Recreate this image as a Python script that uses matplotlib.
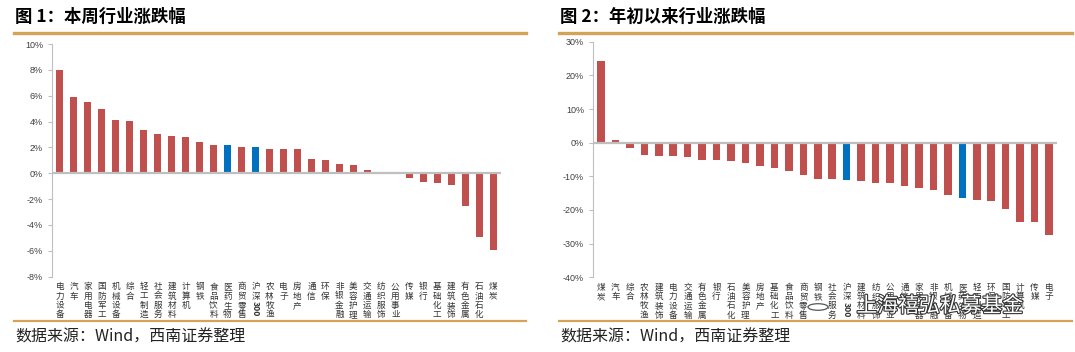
import matplotlib
matplotlib.use("Agg")
import matplotlib.pyplot as plt
import matplotlib.patheffects as pe
from matplotlib.lines import Line2D

plt.rcParams['font.family'] = ['Noto Sans CJK SC', 'DejaVu Sans']

# 本周行业涨跌幅 (%)
week_names = ["电力设备", "汽车", "家用电器", "国防军工", "机械设备", "综合", "轻工制造",
              "社会服务", "建筑材料", "计算机", "钢铁", "食品饮料", "医药生物", "商贸零售",
              "沪深300", "农林牧渔", "电子", "房地产", "通信", "环保", "非银金融", "美容护理",
              "交通运输", "纺织服饰", "公用事业", "传媒", "银行", "基础化工", "建筑装饰",
              "有色金属", "石油石化", "煤炭"]
week_values = [8.0, 5.88, 5.55, 4.98, 4.13, 4.05, 3.35, 3.05, 2.92, 2.79, 2.45, 2.19, 2.19,
               2.06, 2.01, 1.88, 1.88, 1.88, 1.08, 1.03, 0.70, 0.65, 0.23, 0.02, -0.08,
               -0.34, -0.65, -0.77, -0.93, -2.53, -4.9, -5.96]

# 年初以来行业涨跌幅 (%)
ytd_names = ["煤炭", "汽车", "综合", "农林牧渔", "建筑装饰", "电力设备", "交通运输", "有色金属",
             "银行", "石油石化", "美容护理", "房地产", "基础化工", "食品饮料", "商贸零售", "钢铁",
             "社会服务", "沪深300", "建筑材料", "纺织服饰", "公用事业", "通信", "家用电器",
             "非银金融", "机械设备", "医药生物", "轻工制造", "环保", "国防军工", "计算机",
             "传媒", "电子"]
ytd_values = [24.3, 0.7, -1.7, -3.6, -3.9, -4.1, -4.3, -5.0, -5.0, -5.3, -6.0, -6.8, -7.6,
              -8.3, -9.7, -10.8, -10.8, -11.0, -11.4, -11.9, -11.9, -12.8, -13.4, -14.1,
              -15.6, -16.4, -17.1, -17.3, -19.7, -23.5, -23.7, -27.4]

highlight = ["沪深300", "医药生物"]
RED = "#C0504D"
BLUE = "#0070C0"
GOLD = "#D6A257"

fig = plt.figure(figsize=(10.75, 3.52), dpi=100)


def px(x, y):
    return x / 1075, 1 - y / 352


def draw_panel(rect, names, values, ylim, yticks, xpad):
    ax = fig.add_axes(rect)
    colors = [BLUE if n in highlight else RED for n in names]
    ax.bar(range(len(names)), values, width=0.52, color=colors, zorder=2)
    ax.axhline(0, color="#BFBFBF", lw=1.6, zorder=3)
    ax.set_ylim(*ylim)
    ax.set_xlim(-xpad, len(names) - 1 + xpad)
    ax.set_yticks(yticks)
    ax.set_yticklabels([f"{t}%" for t in yticks], fontfamily="Liberation Sans")
    ax.tick_params(axis="y", labelsize=6.5, colors="#BFBFBF", labelcolor="#404040",
                   length=3, width=0.8, pad=3.5)
    ax.set_xticks([])
    for s in ["top", "right", "bottom"]:
        ax.spines[s].set_visible(False)
    ax.spines["left"].set_color("#BFBFBF")
    ax.spines["left"].set_linewidth(0.8)
    # vertical stacked category labels
    for i, name in enumerate(names):
        k = 0
        for ch in name.replace("300", ""):
            ax.annotate(ch, xy=(i, 0), xycoords=("data", "axes fraction"),
                        xytext=(0, -(10 + 9.3 * k) * 0.72), textcoords="offset points",
                        ha="center", va="center", fontsize=6.2, color="#333333")
            k += 1
        if "300" in name:
            ax.annotate("300", xy=(i, 0), xycoords=("data", "axes fraction"),
                        xytext=(0, -(6 + 9.3 * k) * 0.72), textcoords="offset points",
                        ha="center", va="top", fontsize=6.2, rotation=-90,
                        color="#333333", fontweight="bold")
    return ax


draw_panel([52 / 1075, 1 - 276.7 / 352, 449 / 1075, 232.7 / 352],
           week_names, week_values, (-8, 10), list(range(-8, 11, 2)), 0.56)
draw_panel([593 / 1075, 1 - 277.3 / 352, 464 / 1075, 235.6 / 352],
           ytd_names, ytd_values, (-40, 30), list(range(-40, 31, 10)), 0.55)

# titles, rules and sources
for x0, x1, title in [(14, 526, "图 1：本周行业涨跌幅"), (559, 1072, "图 2：年初以来行业涨跌幅")]:
    fig.text(*px(x0 + 1, 17), title, fontsize=12.5, fontweight="bold", va="center", ha="left")
    for y, lw in [(32.7, 2.4), (321, 1.6)]:
        fig.add_artist(Line2D([x0 / 1075, x1 / 1075], [1 - y / 352] * 2, color=GOLD, lw=lw))
    fig.text(*px(x0 + 1, 337), "数据来源：Wind，西南证券整理", fontsize=11.5,
             style="italic", va="center", ha="left", color="#222222")

# watermark
fig.text(*px(940, 306), "上海禧弘私募基金", fontsize=15, ha="center", va="center",
         color="white", path_effects=[pe.withStroke(linewidth=1.6, foreground="#333333")])
fig.add_artist(plt.Circle(px(818, 307), 10 / 1075, transform=fig.transFigure,
                          fill=False, ec="#555555", lw=0.9))

fig.savefig("out.png", dpi=100)
